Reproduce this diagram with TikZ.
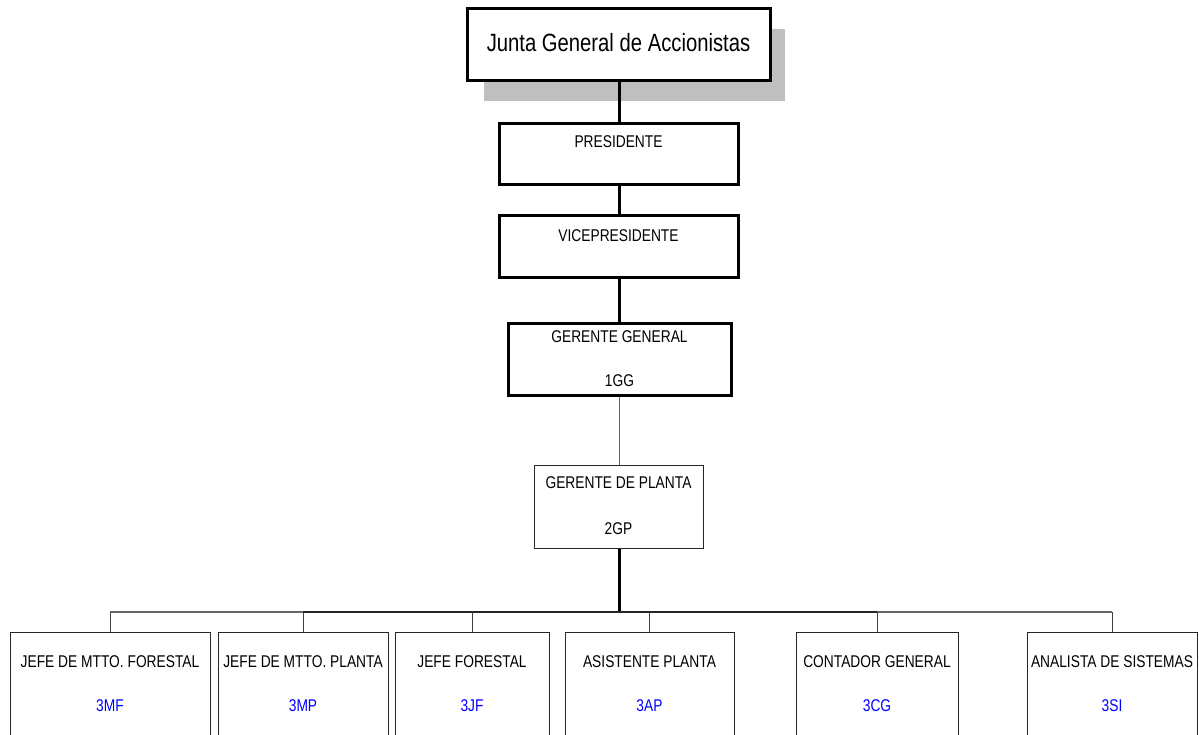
\documentclass[tikz,border=0pt]{standalone}
\usepackage{fontspec}
\setmainfont{Liberation Sans}[FakeStretch=0.81]
\begin{document}
\begin{tikzpicture}[x=1pt,y=-1pt,
  heavybox/.style={draw=black,line width=3pt,fill=white,inner sep=0pt},
  lightbox/.style={draw=black!85,line width=1pt,fill=white,inner sep=0pt},
  title/.style={font=\fontsize{17}{17}\selectfont,inner sep=0pt,anchor=center},
  code/.style={font=\fontsize{17}{17}\selectfont,text=blue,inner sep=0pt,anchor=center},
  heavylink/.style={line width=3pt,draw=black},
  lightlink/.style={line width=1pt,draw=black!60},
  bus/.style={line width=1.5pt,draw=black!60},
  innerbus/.style={line width=1.6pt,draw=black!85},
  drop/.style={line width=1pt,draw=black!75}]
\path[use as bounding box,clip] (0,0) rectangle (1199,734);
\fill[white] (0,0) rectangle (1199,734);

% top of the chart
\fill[black!25] (484,29) rectangle (785,101);
\node[heavybox,minimum width=303pt,minimum height=72pt] (junta) at (618.5,44) {};
\node[font=\fontsize{25}{25}\selectfont,inner sep=0pt] (juntaT) at (618.5,43) {Junta General de Accionistas};

\node[heavybox,minimum width=239pt,minimum height=61pt] (pres) at (618.5,153.5) {};
\node[title] (presT) at (618.5,142) {PRESIDENTE};

\node[heavybox,minimum width=239pt,minimum height=62pt] (vice) at (618.5,246) {};
\node[title] (viceT) at (618.5,236) {VICEPRESIDENTE};

\node[heavybox,minimum width=223pt,minimum height=72pt] (gg) at (619.5,359) {};
\node[title] (ggT) at (619.5,337) {GERENTE GENERAL};
\node[title] (ggC) at (619.5,381) {1GG};

\node[lightbox,minimum width=169pt,minimum height=83pt] (gp) at (618.5,506.5) {};
\node[title] (gpT) at (618.5,483) {GERENTE DE PLANTA};
\node[title] (gpC) at (618.5,529) {2GP};

% links along the chain
\draw[heavylink] (junta.south -| 619,0) -- (pres.north -| 619,0);
\draw[heavylink] (pres.south -| 619,0) -- (vice.north -| 619,0);
\draw[heavylink] (vice.south -| 619,0) -- (gg.north -| 619,0);
\draw[lightlink] (gg.south -| 619,0) -- (gp.north -| 619,0);

\coordinate (busC) at (619,612);
\draw[heavylink] (gp.south -| 619,0) -- (busC);

% third level boxes
\foreach \n/\l/\r/\t/\c in {
  mf/10/210/JEFE DE MTTO. FORESTAL/3MF,
  mp/218/388/JEFE DE MTTO. PLANTA/3MP,
  jf/395/549/JEFE FORESTAL/3JF,
  ap/565/734/ASISTENTE PLANTA/3AP,
  cg/796/958/CONTADOR GENERAL/3CG,
  si/1027/1197/ANALISTA DE SISTEMAS/3SI}{
  \pgfmathsetmacro\w{\r-\l}
  \pgfmathsetmacro\m{(\r+\l)/2}
  \node[lightbox,minimum width=\w pt,minimum height=120pt,anchor=north] (\n) at (\m,632) {};
  \node[title] (\n T) at (\m,662) {\t};
  \node[code] (\n C) at (\m,706) {\c};
}

% bus and drops
\coordinate (busL) at (110,612);
\coordinate (busR) at (1112,612);
\coordinate (busIL) at (303,612);
\coordinate (busIR) at (877,612);
\draw[bus] (busL) -- (busR);
\draw[innerbus] (busIL) -- (busIR);
\foreach \n/\x in {mf/110,mp/303,jf/472,ap/649,cg/877,si/1112}{
  \draw[drop] (\x,612) -- (\n.north -| \x,0);
}
\end{tikzpicture}
\end{document}
